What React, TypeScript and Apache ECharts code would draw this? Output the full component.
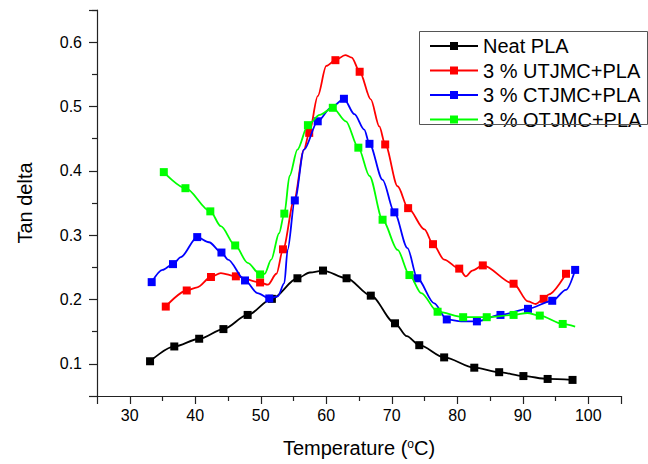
import React, { useEffect, useRef } from "react";
import * as echarts from "echarts";

// [temperature (°C), tan delta, marker shown (1) or not (0)]
const neatPLA: number[][] = [
  [33.1, 0.104, 1], [36.8, 0.127, 1], [40.6, 0.139, 1], [44.3, 0.154, 1], [48.0, 0.176, 1],
  [51.7, 0.201, 1], [55.6, 0.233, 1], [57.5, 0.242, 0], [59.5, 0.245, 1], [63.1, 0.233, 1],
  [66.8, 0.206, 1], [70.5, 0.163, 1], [72.3, 0.143, 0], [74.2, 0.129, 1], [78.0, 0.110, 1],
  [82.6, 0.094, 1], [86.4, 0.087, 1], [90.1, 0.081, 1], [93.8, 0.0765, 1], [97.6, 0.075, 1],
];

const utjmcPLA: number[][] = [
  [35.5, 0.189, 1], [38.7, 0.214, 1], [40.3, 0.219, 0], [42.4, 0.235, 1], [43.9, 0.241, 0],
  [46.2, 0.236, 1], [49.9, 0.2265, 1], [51.1, 0.223, 0], [52.4, 0.24, 0], [53.4, 0.278, 1],
  [55.1, 0.355, 0], [56.6, 0.433, 0], [57.4, 0.459, 1], [58.7, 0.516, 0], [60.0, 0.563, 0],
  [61.4, 0.572, 1], [62.9, 0.58, 0], [63.9, 0.576, 0], [65.1, 0.554, 1], [66.8, 0.511, 0],
  [68.1, 0.469, 0], [69.0, 0.441, 1], [70.9, 0.376, 0], [72.5, 0.342, 1], [75.0, 0.309, 0],
  [76.3, 0.286, 1], [78.0, 0.262, 0], [80.3, 0.248, 1], [81.3, 0.236, 0], [82.3, 0.245, 0],
  [83.9, 0.253, 1], [88.6, 0.2245, 1], [90.8, 0.197, 0], [92.0, 0.193, 0], [93.2, 0.201, 1],
  [94.0, 0.208, 0], [96.6, 0.24, 1],
];

const ctjmcPLA: number[][] = [
  [33.35, 0.227, 1], [35.0, 0.246, 0], [36.6, 0.255, 1], [37.8, 0.266, 0], [40.3, 0.297, 1],
  [42.1, 0.289, 0], [44.0, 0.273, 1], [45.0, 0.262, 0], [47.6, 0.2296, 1], [49.5, 0.21, 0],
  [51.3, 0.2016, 1], [52.6, 0.205, 0], [53.6, 0.2255, 0], [54.1, 0.277, 0], [55.2, 0.354, 1],
  [56.6, 0.433, 0], [58.7, 0.477, 1], [60.7, 0.498, 0], [62.7, 0.512, 1], [64.3, 0.488, 0],
  [65.8, 0.464, 0], [66.6, 0.442, 1], [68.6, 0.386, 0], [70.4, 0.3355, 1], [72.4, 0.28, 0],
  [73.9, 0.233, 1], [76.5, 0.194, 0], [78.4, 0.169, 1], [80.6, 0.166, 0], [83.0, 0.166, 1],
  [86.6, 0.176, 1], [90.8, 0.1855, 1], [94.5, 0.198, 1], [96.6, 0.215, 0], [98.0, 0.246, 1],
];

const otjmcPLA: number[][] = [
  [35.2, 0.398, 1], [38.5, 0.373, 1], [42.3, 0.337, 1], [43.9, 0.314, 0], [46.1, 0.284, 1],
  [48.0, 0.257, 0], [49.9, 0.239, 1], [50.6, 0.24, 0], [51.6, 0.262, 0], [52.8, 0.303, 0],
  [53.6, 0.3335, 1], [54.4, 0.392, 0], [55.6, 0.433, 0], [57.2, 0.471, 1], [59.0, 0.487, 0],
  [61.0, 0.498, 1], [63.0, 0.477, 0], [64.9, 0.436, 1], [66.6, 0.392, 0], [68.6, 0.324, 1],
  [70.9, 0.277, 0], [72.7, 0.238, 1], [74.5, 0.21, 0], [77.0, 0.181, 1], [80.9, 0.1725, 1],
  [84.5, 0.1725, 1], [88.6, 0.176, 1], [90.7, 0.179, 0], [92.6, 0.175, 1], [96.1, 0.162, 1],
  [98.0, 0.158, 0],
];

const seriesNames = ["Neat PLA", "3 % UTJMC+PLA", "3 % CTJMC+PLA", "3 % OTJMC+PLA"];
const seriesColors = ["#000000", "#ff0000", "#0000ff", "#00ff00"];
const seriesData = [neatPLA, utjmcPLA, ctjmcPLA, otjmcPLA];

const FONT = "'Liberation Sans', Arial, Helvetica, sans-serif";

export default function App() {
  const ref = useRef<HTMLDivElement>(null);
  useEffect(() => {
    if (!ref.current) return;
    const chart = echarts.init(ref.current, null, { renderer: "svg" });
    chart.setOption({
      animation: false,
      backgroundColor: "#ffffff",
      textStyle: { fontFamily: FONT },
      grid: { left: 97, right: 27, top: 10, bottom: 68, containLabel: false },
      legend: {
        left: 429,
        top: 36,
        orient: "vertical",
        padding: 0,
        itemWidth: 48,
        itemHeight: 10,
        itemGap: 4.5,
        selectedMode: false,
        textStyle: { fontSize: 20, color: "#000", fontFamily: FONT },
        data: seriesNames,
      },
      graphic: [
        {
          type: "rect",
          shape: { x: 419.5, y: 31.5, width: 228, height: 93 },
          style: { fill: "none", stroke: "#555", lineWidth: 1 },
          z: 10,
        },
      ],
      xAxis: {
        type: "value",
        min: 25,
        max: 105,
        splitNumber: 8,
        name: "Temperature ({sup|o}C)",
        nameLocation: "middle",
        nameGap: 42,
        nameTextStyle: {
          fontSize: 20,
          color: "#000",
          fontFamily: FONT,
          rich: { sup: { fontSize: 12, verticalAlign: "top", color: "#000", fontFamily: FONT } },
        },
        axisLine: { show: true, onZero: false, lineStyle: { color: "#222", width: 1.2 } },
        axisTick: { show: true, inside: false, length: 8, lineStyle: { color: "#222", width: 1.2 } },
        minorTick: { show: true, splitNumber: 2, length: 5, lineStyle: { color: "#222", width: 1.2 } },
        axisLabel: {
          fontSize: 16,
          color: "#000",
          margin: 11,
          fontFamily: FONT,
          showMinLabel: false,
          showMaxLabel: false,
          formatter: (v: number) => (Math.round(v) % 10 === 0 ? String(Math.round(v)) : ""),
        },
        splitLine: { show: false },
      },
      yAxis: {
        type: "value",
        min: 0.05,
        max: 0.65,
        splitNumber: 6,
        name: "Tan delta",
        nameLocation: "middle",
        nameGap: 62,
        nameTextStyle: { fontSize: 20, color: "#000", fontFamily: FONT },
        axisLine: { show: true, onZero: false, lineStyle: { color: "#222", width: 1.2 } },
        axisTick: { show: true, inside: false, length: 8, lineStyle: { color: "#222", width: 1.2 } },
        minorTick: { show: true, splitNumber: 2, length: 5, lineStyle: { color: "#222", width: 1.2 } },
        axisLabel: {
          fontSize: 16,
          color: "#000",
          margin: 15,
          fontFamily: FONT,
          showMinLabel: false,
          showMaxLabel: false,
          formatter: (v: number) => {
            const r = Math.round(v * 100);
            return r % 10 === 0 ? (r / 100).toFixed(1) : "";
          },
        },
        splitLine: { show: false },
      },
      series: seriesNames.map((name, i) => ({
        name,
        type: "line",
        data: seriesData[i],
        encode: { x: 0, y: 1 },
        smooth: 0.3,
        smoothMonotone: "x",
        symbol: "rect",
        showAllSymbol: true,
        symbolSize: (val: number[]) => (val[2] ? 8 : 0),
        color: seriesColors[i],
        itemStyle: { color: seriesColors[i] },
        lineStyle: { color: seriesColors[i], width: 1.8 },
        emphasis: { disabled: true },
        silent: true,
        z: 2 + i,
      })),
    });
    return () => chart.dispose();
  }, []);
  return <div ref={ref} style={{ width: 648, height: 464, position: "absolute", left: 0, top: 0 }} />;
}
